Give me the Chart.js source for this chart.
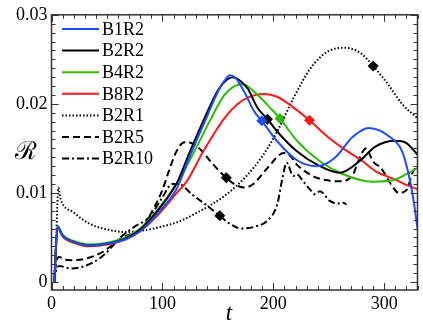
<!DOCTYPE html>
<html>
<head>
<meta charset="utf-8">
<script src="https://cdn.jsdelivr.net/npm/chart.js@4.4.1/dist/chart.umd.min.js"></script>
<style>
    html, body { margin: 0; padding: 0; background: #fff; }
    #wrap { width: 423px; height: 327px; }
</style>
</head>
<body>
<div id="wrap"><canvas id="chart"></canvas></div>
<script>
/* ---------- data ---------- */
const seriesNames = ['B1R2', 'B2R2', 'B4R2', 'B8R2', 'B2R1', 'B2R5', 'B2R10'];

const tB1R2 = [2.5, 5.5, 10, 20, 35, 50, 67, 80, 95, 113, 126, 139.6, 148.6, 156, 160.6, 166, 174, 183, 189.6, 203.5, 221, 239, 255, 271.7, 286, 307, 316, 322, 326.5, 330];
const rB1R2 = [0, 0.0062, 0.0052, 0.0045, 0.0041, 0.0043, 0.0048, 0.0057, 0.0076, 0.0105, 0.0145, 0.0184, 0.021, 0.0226, 0.0232, 0.0229, 0.0213, 0.0191, 0.0181, 0.0158, 0.0137, 0.0130, 0.0139, 0.0163, 0.0173, 0.0161, 0.0147, 0.0121, 0.0091, 0.006];

const tB2R2 = [2.5, 5.5, 10, 20, 35, 50, 67, 80, 95, 113, 125, 138, 150, 158, 163.5, 170, 177, 186, 194.7, 203.5, 221, 239, 260, 277.6, 292, 310, 320, 330];
const rB2R2 = [0, 0.0062, 0.0052, 0.0045, 0.0041, 0.0043, 0.0049, 0.0059, 0.0079, 0.0111, 0.0147, 0.0184, 0.0215, 0.0227, 0.0230, 0.0226, 0.0217, 0.0195, 0.0183, 0.0169, 0.0147, 0.0132, 0.01226, 0.01356, 0.0152, 0.01585, 0.0156, 0.0143];

const tB4R2 = [2.5, 5.5, 10, 20, 35, 50, 67, 80, 95, 113, 129, 144, 156, 165, 172.5, 185.8, 197.6, 206, 221, 242, 263, 289.5, 310, 320, 330];
const rB4R2 = [0, 0.0063, 0.0053, 0.0046, 0.0042, 0.0044, 0.0050, 0.0060, 0.0080, 0.0111, 0.0147, 0.0184, 0.0210, 0.0220, 0.0222, 0.0210, 0.0195, 0.01837, 0.0159, 0.01356, 0.0121, 0.01126, 0.0115, 0.0121, 0.0128];

const tB8R2 = [2.5, 5.5, 10, 20, 35, 50, 67, 80, 95, 113, 122, 137, 156, 168, 177, 191.7, 203.5, 218, 232.6, 250, 263, 280.6, 292, 310, 320, 330];
const rB8R2 = [0, 0.0061, 0.0051, 0.0044, 0.0040, 0.0042, 0.0048, 0.0057, 0.0074, 0.0100, 0.0113, 0.0147, 0.0184, 0.0200, 0.0207, 0.0211, 0.0208, 0.0196, 0.01815, 0.0162, 0.0150, 0.01356, 0.01244, 0.0115, 0.0109, 0.0104];

const tB2R1 = [2.5, 4.5, 6.2, 8, 20, 35, 50, 67, 88, 97, 113, 130, 156, 175, 190, 203.5, 218, 233, 248, 264, 277.6, 290, 304, 316, 330];
const rB2R1 = [0, 0.006, 0.0106, 0.0094, 0.0078, 0.0065, 0.0059, 0.0056, 0.0059, 0.00615, 0.0067, 0.0077, 0.00967, 0.0118, 0.0141, 0.0169, 0.0206, 0.0239, 0.0258, 0.0263, 0.0258, 0.02426, 0.0221, 0.0200, 0.01837];

const tB2R5 = [2.5, 4, 7, 12, 18, 30, 45, 64, 82, 91, 99.6, 106, 112, 120, 128, 135, 145, 157.6, 166, 174, 182, 194.7, 209.5, 215, 221, 230, 239, 250, 260, 272, 276, 283.5, 290, 297, 307, 313, 320.6, 325, 330];
const rB2R5 = [0, 0.002, 0.0028, 0.0025, 0.00244, 0.0026, 0.0033, 0.0050, 0.0061, 0.0080, 0.0102, 0.0125, 0.0145, 0.0157, 0.0155, 0.0148, 0.0133, 0.0117, 0.0109, 0.0106, 0.0110, 0.0128, 0.01448, 0.0142, 0.0132, 0.0123, 0.0117, 0.0114, 0.0113, 0.0121, 0.01337, 0.0150, 0.0135, 0.0128, 0.0108, 0.0100, 0.0104, 0.0121, 0.0132];

const tB2R10 = [2.5, 4, 7, 17, 30, 45, 64, 76, 88, 100, 108.7, 115, 126.5, 140, 151.7, 160, 171, 183, 194.7, 203.5, 208, 212, 218, 221, 227, 233, 237.6, 242, 251, 258, 263, 266];
const rB2R10 = [0, 0.0012, 0.0018, 0.00152, 0.0018, 0.0028, 0.0052, 0.0063, 0.00726, 0.0095, 0.0110, 0.0110, 0.00985, 0.0086, 0.00744, 0.0066, 0.0060, 0.0062, 0.0069, 0.0087, 0.0115, 0.0134, 0.0119, 0.0121, 0.0113, 0.0104, 0.00985, 0.0102, 0.0091, 0.0088, 0.0089, 0.0087];

// one diamond marker per curve
const markerT = [189.6, 194.7, 206, 232.6, 290, 157.6, 151.7];
const markerR = [0.0181, 0.01826, 0.01837, 0.01815, 0.02426, 0.0117, 0.00744];

const xTicks = [0, 100, 200, 300];
const yTicks = [0, 0.01, 0.02, 0.03];

/* ---------- styles ---------- */
const colors = ['#1f4cff', '#000000', '#2fbb00', '#ff1a1a', '#000000', '#000000', '#000000'];
const dashes = [[], [], [], [], [1.5, 2], [7, 4], [7, 3, 2, 3]];
const SERIF = '"Liberation Serif", "Times New Roman", serif';

const tData = [tB1R2, tB2R2, tB4R2, tB8R2, tB2R1, tB2R5, tB2R10];
const rData = [rB1R2, rB2R2, rB4R2, rB8R2, rB2R1, rB2R5, rB2R10];

const lineSets = seriesNames.map((name, i) => ({
    label: name,
    data: tData[i].map((t, k) => ({ x: t, y: rData[i][k] })),
    borderColor: colors[i],
    borderWidth: 2,
    borderDash: dashes[i],
    pointRadius: 0,
    cubicInterpolationMode: 'monotone',
    fill: false
}));

const markerSets = seriesNames.map((name, i) => ({
    label: name + ' marker',
    data: [{ x: markerT[i], y: markerR[i] }],
    showLine: false,
    pointStyle: 'rectRot',
    pointRadius: 5.5,
    backgroundColor: colors[i],
    borderColor: colors[i],
    borderWidth: 0
}));

// frame, inward ticks, axis titles, legend
const decorations = {
    id: 'decorations',
    afterDraw(chart) {
        const { ctx, chartArea: a, scales: { x, y } } = chart;
        ctx.save();
        ctx.strokeStyle = '#333';
        ctx.lineWidth = 1;
        for (let v = 0; v <= 330; v += 10) {
            const px = Math.round(x.getPixelForValue(v)) + 0.5;
            const len = v % 100 === 0 ? 7 : 4;
            ctx.beginPath();
            ctx.moveTo(px, a.bottom); ctx.lineTo(px, a.bottom - len);
            ctx.moveTo(px, a.top); ctx.lineTo(px, a.top + len);
            ctx.stroke();
        }
        for (let k = 0; k <= 30; k++) {
            const py = Math.round(y.getPixelForValue(k / 1000)) + 0.5;
            const len = k % 10 === 0 ? 7 : 4;
            ctx.beginPath();
            ctx.moveTo(a.left, py); ctx.lineTo(a.left + len, py);
            ctx.moveTo(a.right, py); ctx.lineTo(a.right - len, py);
            ctx.stroke();
        }
        ctx.lineWidth = 1.5;
        ctx.strokeRect(a.left, a.top, a.right - a.left, a.bottom - a.top);

        // axis titles
        ctx.fillStyle = '#000';
        ctx.textAlign = 'center';
        ctx.textBaseline = 'middle';
        ctx.font = '25px ' + SERIF;
        ctx.fillText('\u211B', 26, 152);
        ctx.font = 'italic 23px ' + SERIF;
        ctx.fillText('t', 229, 314);

        // legend
        ctx.font = '18px ' + SERIF;
        ctx.textAlign = 'left';
        seriesNames.forEach((name, i) => {
            const ly = 29 + i * 21.6;
            ctx.strokeStyle = colors[i];
            ctx.lineWidth = 2;
            ctx.setLineDash(dashes[i]);
            ctx.beginPath();
            ctx.moveTo(62, ly); ctx.lineTo(99, ly);
            ctx.stroke();
            ctx.setLineDash([]);
            ctx.fillText(name, 102, ly + 1);
        });
        ctx.restore();
    }
};

new Chart(document.getElementById('chart'), {
    type: 'line',
    data: { datasets: [...lineSets, ...markerSets] },
    options: {
        responsive: true,
        maintainAspectRatio: false,
        animation: false,
        layout: { padding: { top: 12, right: 1, left: 0, bottom: 0 } },
        plugins: {
            legend: { display: false },
            tooltip: { enabled: false }
        },
        scales: {
            x: {
                type: 'linear',
                min: 0,
                max: 330,
                grid: { display: false, drawTicks: false },
                border: { display: false },
                afterBuildTicks: s => { s.ticks = xTicks.map(v => ({ value: v })); },
                afterFit: s => { s.height = 37; },
                ticks: {
                    padding: 3,
                    color: '#000',
                    font: { family: SERIF, size: 18 },
                    callback: v => String(v)
                }
            },
            y: {
                type: 'linear',
                min: -0.0009,
                max: 0.03,
                grid: { display: false, drawTicks: false },
                border: { display: false },
                afterBuildTicks: s => { s.ticks = yTicks.map(v => ({ value: v })); },
                afterFit: s => { s.width = 51.5; },
                ticks: {
                    padding: 4,
                    color: '#000',
                    font: { family: SERIF, size: 18 },
                    callback: v => (v === 0 ? '0' : v.toFixed(2))
                }
            }
        }
    },
    plugins: [decorations]
});
</script>
</body>
</html>
